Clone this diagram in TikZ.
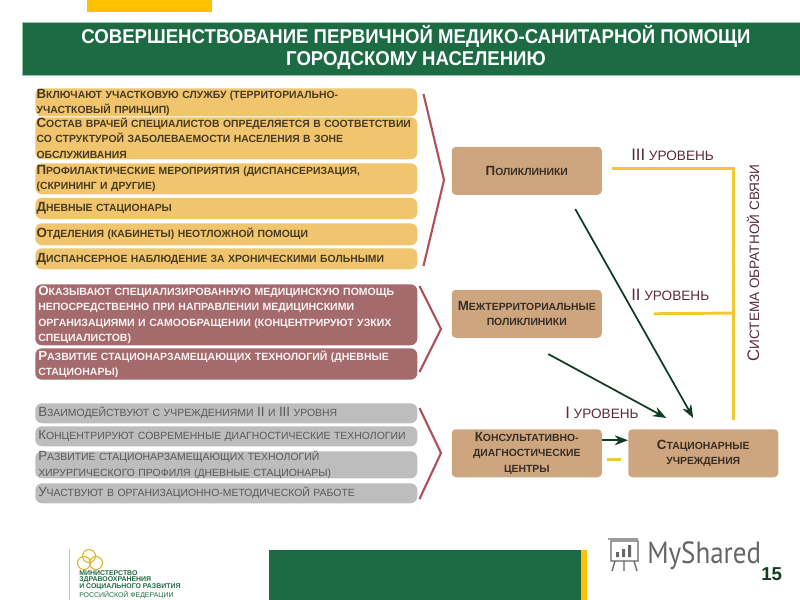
\documentclass[tikz,border=0pt]{standalone}
\usepackage{fontspec}
\setmainfont{Liberation Sans}
\newfontfamily\narrowfont[FakeStretch=0.93]{Liberation Sans}
\newfontfamily\logofont[FakeStretch=0.88]{PT Sans}
\usetikzlibrary{arrows.meta}
\definecolor{headgreen}{HTML}{1C6B42}
\definecolor{edgegreen}{HTML}{8FC9A6}
\definecolor{topyellow}{HTML}{FFC000}
\definecolor{boxyellow}{HTML}{F0C56E}
\definecolor{boxred}{HTML}{A56A6C}
\definecolor{boxgray}{HTML}{BDBDBD}
\definecolor{boxtan}{HTML}{CDA67F}
\definecolor{chevred}{HTML}{B0505E}
\definecolor{lineyellow}{HTML}{EFC92F}
\definecolor{arrowgreen}{HTML}{103C22}
\definecolor{labelred}{HTML}{5B2A3A}
\newcommand{\cp}[2]{{\fontsize{10}{11.5}\selectfont #1}#2}
\newcommand{\cq}[2]{{\fontsize{12.5}{12.5}\selectfont #1}#2}
\tikzstyle{listbox}=[rectangle, rounded corners=5pt, anchor=north west, align=left, text width=282pt, inner xsep=2.25pt, inner ysep=0pt, font=\bfseries\fontsize{7.8}{11.5}\selectfont]
\tikzstyle{yellowbox}=[listbox, fill=boxyellow, text=black!70!boxyellow, inner xsep=1pt, text width=284.5pt]
\tikzstyle{redbox}=[listbox, fill=boxred, text=white!92!boxred, font=\bfseries\fontsize{7.88}{11.5}\selectfont]
\tikzstyle{graybox}=[listbox, fill=boxgray, text=black!65, font=\fontsize{7.83}{11.5}\selectfont]
\tikzstyle{placebox}=[rectangle, rounded corners=3pt, fill=boxtan, text=black!72!boxtan, anchor=north west, align=center, minimum width=112.5pt, minimum height=36pt, inner sep=0pt, font=\bfseries\fontsize{7.8}{11.5}\selectfont]
\tikzstyle{chevron}=[draw=chevred, line width=1.6pt]
\tikzstyle{feedback}=[draw=lineyellow, line width=2.2pt]
\tikzstyle{post}=[draw=arrowgreen, line width=1.3pt, -{Stealth[length=10pt,width=7.5pt]}]
\tikzstyle{level}=[text=labelred, font=\fontsize{10.2}{12}\selectfont, inner sep=0pt]
\begin{document}
\begin{tikzpicture}[x=0.75pt,y=-0.75pt]
  \useasboundingbox (0,0) rectangle (800,600);
  % header
  \fill[topyellow] (87,0) rectangle (212,12);
  \node[rectangle, fill=headgreen, draw=edgegreen, line width=.5pt, anchor=north west, minimum width=583.5pt, minimum height=40pt, inner sep=0pt] (header) at (22,22) {};
  \node[text=white, align=center, font=\narrowfont\bfseries\fontsize{15}{16.5}\selectfont] (title) at (416,47) {СОВЕРШЕНСТВОВАНИЕ ПЕРВИЧНОЙ МЕДИКО-САНИТАРНОЙ ПОМОЩИ\\ГОРОДСКОМУ НАСЕЛЕНИЮ};
  % first list
  \node[yellowbox, minimum height=21pt] (uchastok) at (35,88) {\cp{В}{КЛЮЧАЮТ УЧАСТКОВУЮ СЛУЖБУ (ТЕРРИТОРИАЛЬНО-}\\УЧАСТКОВЫЙ ПРИНЦИП)};
  \node[yellowbox, minimum height=31.5pt] (sostav) at (35,117) {\mbox{\cp{С}{ОСТАВ ВРАЧЕЙ СПЕЦИАЛИСТОВ ОПРЕДЕЛЯЕТСЯ В СООТВЕТСТВИИ}}\\СО СТРУКТУРОЙ ЗАБОЛЕВАЕМОСТИ НАСЕЛЕНИЯ В ЗОНЕ\\ОБСЛУЖИВАНИЯ};
  \node[yellowbox, minimum height=23.25pt] (profil) at (35,163) {\cp{П}{РОФИЛАКТИЧЕСКИЕ МЕРОПРИЯТИЯ (ДИСПАНСЕРИЗАЦИЯ,}\\(СКРИНИНГ  И ДРУГИЕ)};
  \node[yellowbox, minimum height=16pt] (dnevnye) at (35,197.5) {\cp{Д}{НЕВНЫЕ СТАЦИОНАРЫ}};
  \node[yellowbox, minimum height=16.5pt] (otdel) at (35,223) {\cp{О}{ТДЕЛЕНИЯ (КАБИНЕТЫ) НЕОТЛОЖНОЙ ПОМОЩИ}};
  \node[yellowbox, minimum height=15.75pt] (dispans) at (35,248) {\cp{Д}{ИСПАНСЕРНОЕ НАБЛЮДЕНИЕ ЗА ХРОНИЧЕСКИМИ БОЛЬНЫМИ}};
  % second list
  \node[redbox, minimum height=45.75pt] (okaz) at (35,284) {\cp{О}{КАЗЫВАЮТ  СПЕЦИАЛИЗИРОВАННУЮ МЕДИЦИНСКУЮ ПОМОЩЬ}\\НЕПОСРЕДСТВЕННО ПРИ НАПРАВЛЕНИИ МЕДИЦИНСКИМИ\\ОРГАНИЗАЦИЯМИ И САМООБРАЩЕНИИ (КОНЦЕНТРИРУЮТ УЗКИХ\\СПЕЦИАЛИСТОВ)};
  \node[redbox, minimum height=23.6pt] (razv) at (35,348) {\cp{Р}{АЗВИТИЕ СТАЦИОНАРЗАМЕЩАЮЩИХ ТЕХНОЛОГИЙ (ДНЕВНЫЕ}\\СТАЦИОНАРЫ)};
  % third list
  \node[graybox, minimum height=15pt] (vzaim) at (35,403) {\cp{В}{ЗАИМОДЕЙСТВУЮТ С УЧРЕЖДЕНИЯМИ }\cp{II}{ И }\cp{III}{ УРОВНЯ}};
  \node[graybox, minimum height=15pt] (konc) at (35,426) {\cp{К}{ОНЦЕНТРИРУЮТ СОВРЕМЕННЫЕ ДИАГНОСТИЧЕСКИЕ ТЕХНОЛОГИИ}};
  \node[graybox, minimum height=20.25pt] (razvkhir) at (35,451) {\cp{Р}{АЗВИТИЕ СТАЦИОНАРЗАМЕЩАЮЩИХ ТЕХНОЛОГИЙ}\\ХИРУРГИЧЕСКОГО ПРОФИЛЯ (ДНЕВНЫЕ СТАЦИОНАРЫ)};
  \node[graybox, minimum height=15pt] (uchast) at (35,483) {\cp{У}{ЧАСТВУЮТ В ОРГАНИЗАЦИОННО-МЕТОДИЧЕСКОЙ РАБОТЕ}};
  % chevrons
  \coordinate (cha1) at (423.5,94);
  \coordinate (cha2) at (444,180);
  \coordinate (cha3) at (423.5,266);
  \coordinate (chb1) at (419.5,286);
  \coordinate (chb2) at (441,329);
  \coordinate (chb3) at (419.5,372);
  \coordinate (chc1) at (419.5,408);
  \coordinate (chc2) at (441,453);
  \coordinate (chc3) at (419.5,499);
  \draw[chevron] (cha1) -- (cha2) -- (cha3);
  \draw[chevron] (chb1) -- (chb2) -- (chb3);
  \draw[chevron] (chc1) -- (chc2) -- (chc3);
  % places
  \node[placebox] (polikl) at (451.5,146.5) {\cp{П}{ОЛИКЛИНИКИ}};
  \node[placebox] (mezh) at (451.5,289.5) {\cp{М}{ЕЖТЕРРИТОРИАЛЬНЫЕ}\\ПОЛИКЛИНИКИ};
  \node[placebox] (kons) at (451.5,429) {\cp{К}{ОНСУЛЬТАТИВНО-}\\ДИАГНОСТИЧЕСКИЕ\\ЦЕНТРЫ};
  \node[placebox] (stac) at (628,429) {\cp{С}{ТАЦИОНАРНЫЕ}\\УЧРЕЖДЕНИЯ};
  % arrows
  \draw[post] ([shift={(48.5,14)}]polikl.south) -- ([shift={(-10,-11)}]stac.north);
  \draw[post] ([shift={(21.5,16)}]mezh.south) -- ([shift={(-37,-11)}]stac.north);
  \draw[post] ([shift={(0,-13)}]kons.east) -- ([shift={(0,-13)}]stac.west);
  % feedback
  \coordinate (fbjoin) at (733.5,313);
  \draw[feedback] ([shift={(10,-2)}]polikl.east) -| ([shift={(30.5,-9)}]stac.north);
  \draw[feedback] ([shift={(51.5,0)}]mezh.east) -- (fbjoin);
  \draw[feedback] ([shift={(4.5,6)}]kons.east) -- ([shift={(-7,6)}]stac.west);
  % labels
  \node[level, anchor=west] (lev3) at (631,155) {\cq{III}{ }УРОВЕНЬ};
  \node[level, anchor=west] (lev2) at (631,295) {\cq{II}{ }УРОВЕНЬ};
  \node[level, anchor=west] (lev1) at (565,413) {\cq{I}{ }УРОВЕНЬ};
  \node[level, rotate=90] (system) at (753,263) {\cq{С}{ИСТЕМА ОБРАТНОЙ СВЯЗИ}};
  % footer
  \fill[headgreen] (269,550) rectangle (581,600);
  \fill[topyellow] (581,550) rectangle (587,600);
  \draw[lineyellow, line width=.5pt] (69,549) -- (69,600);
  \draw[lineyellow!90!black, line width=.8pt] (89,556) circle (6.5) (84,563) circle (6.5) (96,563) circle (6.5);
  \node[anchor=north west, align=left, inner sep=0pt, text=headgreen, font=\bfseries\fontsize{5.2}{5.1}\selectfont] (minzdrav) at (79,570) {МИНИСТЕРСТВО\\ЗДРАВООХРАНЕНИЯ\\И СОЦИАЛЬНОГО РАЗВИТИЯ\\{\mdseries РОССИЙСКОЙ ФЕДЕРАЦИИ}};
  \draw[black!60, line width=1pt] (611,541) rectangle (638,561) (608,539) -- (638,539) (615,561) -- (612,571) (634,561) -- (637,571) (624,561) -- (624,571);
  \fill[black!60] (616,552) rectangle (619,557) (622,549) rectangle (625,557) (628,545) rectangle (631,557);
  \node[anchor=west, inner sep=0pt, text=black!60, font=\logofont\fontsize{23}{23}\selectfont] (myshared) at (647,556) {MyShared};
  \node[anchor=west, inner sep=0pt, text=arrowgreen, font=\bfseries\fontsize{14}{14}\selectfont] (pagenum) at (761,574) {15};
\end{tikzpicture}
\end{document}
